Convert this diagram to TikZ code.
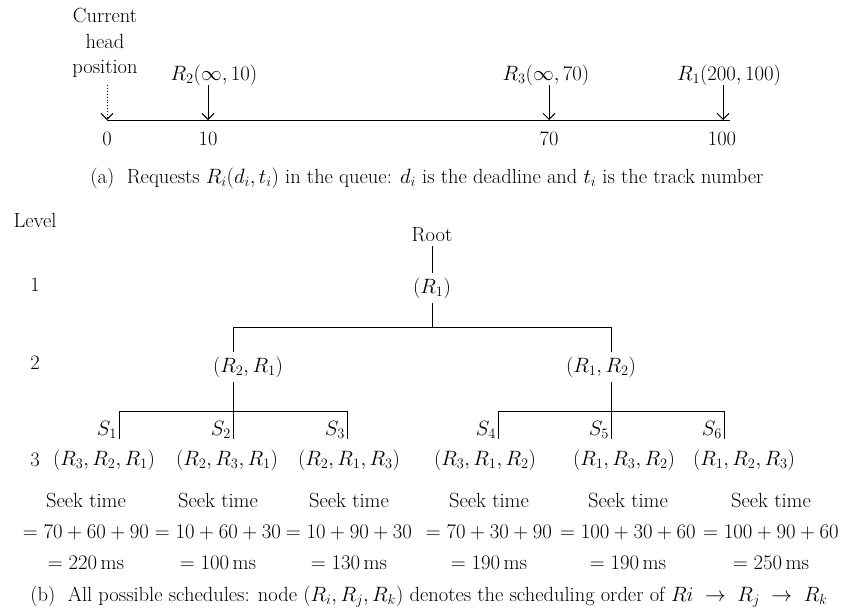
\documentclass[tikz,border=0pt]{standalone}
\usetikzlibrary{arrows.meta}
\begin{document}
\begin{tikzpicture}[x=1pt,y=-1pt,
  every node/.style={font=\fontsize{20.5}{25.5}\selectfont, inner sep=0pt},
  tnode/.style={inner xsep=2pt, inner ysep=4pt},
  ln/.style={line width=0.9pt},
  arr/.style={line width=0.9pt,-{Straight Barb[length=6pt,width=12pt,line width=0.9pt]}},
  seek/.style={align=center, font=\fontsize{20.5}{31}\selectfont},
]
\useasboundingbox (0,0) rectangle (844,616);

% ---------- part (a) ----------
\node (cur) [align=center] at (105,43) {Current\\head\\position};
\node (l2) at (214,75) {$R_2(\infty, 10)$};
\node (l3) at (546,75) {$R_3(\infty, 70)$};
\node (l1) at (729,75) {$R_1(200, 100)$};

\coordinate (t0) at (107,120);
\coordinate (t10) at (208,120);
\coordinate (t70) at (549,120);
\coordinate (t100) at (723,120);
\coordinate (aend) at (730,120);
\coordinate (d0) at (107,85);

\draw[ln] (t0) -- (aend);
\draw[arr,dotted] (d0) -- (t0);
\draw[arr] (t10 |- d0) -- (t10);
\draw[arr] (t70 |- d0) -- (t70);
\draw[arr] (t100 |- d0) -- (t100);

\node (n0) at (107,139) {0};
\node (n10) at (208,139) {10};
\node (n70) at (549,139) {70};
\node (n100) at (722,139) {100};

\node (capa) at (427,178) {(a)\ \ Requests $R_i(d_i,t_i)$ in the queue: $d_i$ is the deadline and $t_i$ is the track number};

% ---------- part (b) ----------
\node (lev) at (35,220) {Level};
\node (lev1) at (35,285) {1};
\node (lev2) at (35,363) {2};
\node (lev3) at (35,460) {3};

\node[tnode] (root) at (432,235) {Root};
\node[tnode] (r1) at (432,288) {$(R_1)$};
\node[tnode] (n21) at (248,367) {$(R_2, R_1)$};
\node[tnode] (n22) at (601,367) {$(R_1, R_2)$};

\coordinate (hL) at (233,327);
\coordinate (hR) at (611,327);

\draw[ln] (root) -- (r1);
\draw[ln] (r1) -- (r1 |- hL);
\draw[ln] (hL) -- (hR);
\draw[ln] (hL) -- (hL |- n21.north);
\draw[ln] (hR) -- (hR |- n22.north);

\coordinate (a1) at (119,411);
\coordinate (a2) at (233,411);
\coordinate (a3) at (347,411);
\coordinate (b1) at (498,411);
\coordinate (b2) at (611,411);
\coordinate (b3) at (724,411);

\draw[ln] (a2 |- n21.south) -- (a2);
\draw[ln] (b2 |- n22.south) -- (b2);
\draw[ln] (a1) -- (a3);
\draw[ln] (b1) -- (b3);
\foreach \c in {a1,a2,a3,b1,b2,b3} {
  \draw[ln] (\c) -- ++(0,28);
}

\node[anchor=base east] (s1) at (117,435) {$S_1$};
\node[anchor=base east] (s2) at (231,435) {$S_2$};
\node[anchor=base east] (s3) at (345,435) {$S_3$};
\node[anchor=base east] (s4) at (496,435) {$S_4$};
\node[anchor=base east] (s5) at (609,435) {$S_5$};
\node[anchor=base east] (s6) at (722,435) {$S_6$};

\node (m1) at (104,460) {$(R_3, R_2, R_1)$};
\node (m2) at (227,460) {$(R_2, R_3, R_1)$};
\node (m3) at (349,460) {$(R_2, R_1, R_3)$};
\node (m4) at (485,460) {$(R_3, R_1, R_2)$};
\node (m5) at (624,460) {$(R_1, R_3, R_2)$};
\node (m6) at (744,460) {$(R_1, R_2, R_3)$};

\node[seek] (k1) at (86,531) {Seek time\\$= 70 + 60 + 90$\\$= 220\,\mathrm{ms}$};
\node[seek] (k2) at (218,531) {Seek time\\$= 10 + 60 + 30$\\$= 100\,\mathrm{ms}$};
\node[seek] (k3) at (349,531) {Seek time\\$= 10 + 90 + 30$\\$= 130\,\mathrm{ms}$};
\node[seek] (k4) at (489,531) {Seek time\\$= 70 + 30 + 90$\\$= 190\,\mathrm{ms}$};
\node[seek] (k5) at (628,531) {Seek time\\$= 100 + 30 + 60$\\$= 190\,\mathrm{ms}$};
\node[seek] (k6) at (771,531) {Seek time\\$= 100 + 90 + 60$\\$= 250\,\mathrm{ms}$};

\node (capb) at (429,597) {(b)\ \ All possible schedules: node $(R_i, R_j, R_k)$ denotes the scheduling order of $Ri \;\rightarrow\; R_j \;\rightarrow\; R_k$};
\end{tikzpicture}
\end{document}
